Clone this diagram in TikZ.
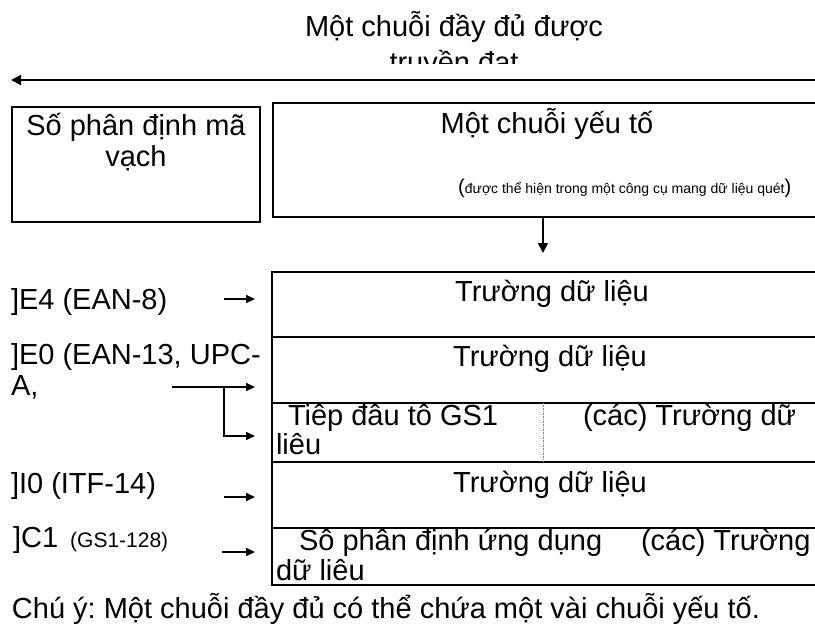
\documentclass[tikz,border=0pt]{standalone}
\usepackage{fontspec}
\setmainfont{Liberation Sans}
\usetikzlibrary{positioning,arrows.meta}
\frenchspacing

\begin{document}
\begin{tikzpicture}[
    x=1pt, y=-1pt,
    >={Triangle[length=9pt,width=8pt]},
    lbl/.style={
        font=\fontsize{29}{33}\selectfont,
        inner sep=0pt,
        outer sep=0pt
    },
    box/.style={
        draw,
        line width=1.2pt,
        inner sep=0pt,
        outer sep=0pt,
        anchor=north west
    },
    field/.style={
        draw,
        line width=1.8pt,
        inner sep=0pt,
        outer sep=0pt,
        minimum width=560pt
    },
    flow/.style={
        ->,
        line width=1.6pt
    }
]

% Page frame
\useasboundingbox (0,0) rectangle (815,630);
\clip (0,0) rectangle (815,630);

% Title (second line is cut off)
\node[lbl, anchor=base] (title) at (454,36) {Một chuỗi đầy đủ được};
\begin{scope}
    \clip (0,0) rectangle (815,63);
    \node[lbl, anchor=base] (title2) at (454,72) {truyền đạt};
\end{scope}

\coordinate (flowstart) at (830,80);
\coordinate (flowend) at (11,80);
\draw[flow, line width=1.8pt, >={Triangle[length=10pt,width=10pt]}] (flowstart) -- (flowend);

% Top boxes
\node[box, minimum width=248pt, minimum height=115pt] (symid) at (12,107) {};
\node[lbl, anchor=base] (symidtxt) at (136,135) {Số phân định mã};
\node[lbl, anchor=base] (symidtxt2) at (136,166) {vạch};

\node[box, minimum width=560pt, minimum height=114pt] (chain) at (273,103) {};
\node[lbl, anchor=base] (chaintxt) at (547,133) {Một chuỗi yếu tố};
\node[anchor=base west, inner sep=0pt] (chainnote) at (458,193) {{\fontsize{20}{24}\selectfont(}{\fontsize{14}{17}\selectfont được thể hiện trong một công cụ mang dữ liệu quét}{\fontsize{20}{24}\selectfont)}};

\coordinate (down) at (543,253);
\draw[flow, >={Triangle[length=10pt,width=10pt]}] (chain.south -| down) -- (down);

% Data field rows
\node[field, anchor=north west, minimum height=65pt] (row1) at (272,272) {};
\node[field, minimum height=66pt, below=0pt of row1] (row2) {};
\node[field, minimum height=59pt, below=0pt of row2] (row3) {};
\node[field, minimum height=66pt, below=0pt of row3] (row4) {};
\node[field, minimum height=57pt, below=0pt of row4] (row5) {};

\node[lbl, anchor=base] (row1txt) at (552,301) {Trường dữ liệu};
\node[lbl, anchor=base] (row2txt) at (550,366) {Trường dữ liệu};
\node[lbl, anchor=base west] (gs1pfx) at (288,425) {Tiêp đâu tô GS1};
\node[lbl, anchor=base west] (fields1) at (583,425) {(các) Trường dữ};
\node[lbl, anchor=base west] (fields1b) at (276,454) {liêu};
\node[lbl, anchor=base] (row4txt) at (550,492) {Trường dữ liệu};
\node[lbl, anchor=base west] (aitxt) at (299,550) {Sô phân định ứng dụng};
\node[lbl, anchor=base west] (fields2) at (641,550) {(các) Trường};
\node[lbl, anchor=base west] (fields2b) at (276,580) {dữ liêu};

\coordinate (sep) at (543,0);
\draw[densely dotted, gray, line width=0.6pt] (row3.north -| sep) -- (row3.south -| sep);

% Symbology identifiers
\node[lbl, anchor=base west] (e4lbl) at (11,309) {]E4 (EAN-8)};
\node[lbl, anchor=base west] (e0lbl) at (11,364) {]E0 (EAN-13, UPC-};
\node[lbl, anchor=base west] (e0lbl2) at (11,395) {A,};
\node[lbl, anchor=base west] (i0lbl) at (11,493) {]I0 (ITF-14)};
\node[lbl, anchor=base west] (c1lbl) at (13,547) {]C1\hspace{4pt} {\fontsize{21}{25}\selectfont(GS1-128)}};

\coordinate (e4from) at (224,299);
\coordinate (e4to) at (255,299);
\coordinate (e0from) at (172,387);
\coordinate (e0fork) at (224,387);
\coordinate (e0to) at (255,387);
\coordinate (gs1to) at (255,436);
\coordinate (i0from) at (224,497);
\coordinate (i0to) at (255,497);
\coordinate (c1from) at (222,552);
\coordinate (c1to) at (255,552);

\draw[flow] (e4from) -- (e4to);
\draw[flow] (e0from) -- (e0to);
\draw[flow] (e0fork) |- (gs1to);
\draw[flow] (i0from) -- (i0to);
\draw[flow] (c1from) -- (c1to);

% Note
\node[lbl, anchor=base west] (note) at (12,618) {Chú ý: Một chuỗi đầy đủ có thể chứa một vài chuỗi yếu tố.};

\end{tikzpicture}
\end{document}
